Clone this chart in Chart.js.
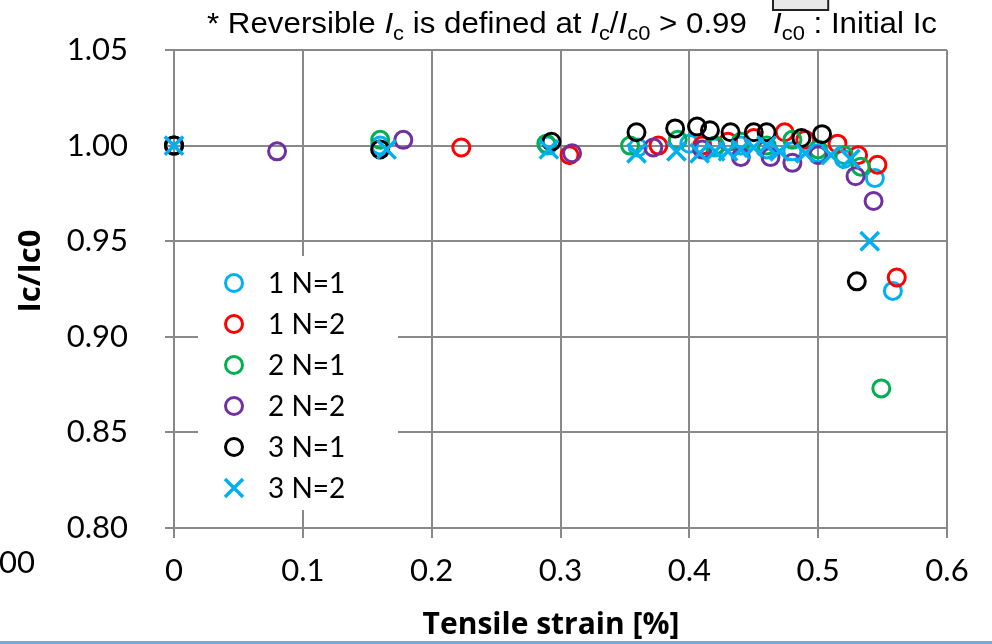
<!DOCTYPE html>
<html>
<head>
<meta charset="utf-8">
<script src="https://cdn.jsdelivr.net/npm/chart.js@4.4.0/dist/chart.umd.min.js"></script>
<style>
  html, body { margin: 0; padding: 0; background: #ffffff; }
  #wrap { width: 992px; height: 644px; position: relative; }
</style>
</head>
<body>
<div id="wrap"><canvas id="chart" width="992" height="644"></canvas></div>
<script>
// Series labels
const seriesNames = ['1 N=1', '1 N=2', '2 N=1', '2 N=2', '3 N=1', '3 N=2'];

// Tick labels
const xTickLabels = ['0', '0.1', '0.2', '0.3', '0.4', '0.5', '0.6'];
const yTickLabels = ['0.80', '0.85', '0.90', '0.95', '1.00', '1.05'];

// 1 N=1
const s1n1Strain = [0, 0.160, 0.290, 0.360, 0.400, 0.420, 0.440, 0.460, 0.480, 0.500, 0.520, 0.544, 0.558];
const s1n1Ratio  = [1.000, 1.000, 1.000, 0.999, 1.001, 0.999, 1.000, 0.998, 0.997, 0.996, 0.993, 0.983, 0.924];
// 1 N=2
const s1n2Strain = [0, 0.223, 0.307, 0.376, 0.410, 0.430, 0.450, 0.474, 0.490, 0.515, 0.531, 0.546, 0.561];
const s1n2Ratio  = [1.000, 0.999, 0.995, 1.000, 1.000, 1.002, 1.004, 1.007, 1.003, 1.001, 0.995, 0.990, 0.931];
// 2 N=1
const s2n1Strain = [0, 0.160, 0.289, 0.354, 0.391, 0.420, 0.440, 0.460, 0.480, 0.500, 0.520, 0.533, 0.549];
const s2n1Ratio  = [1.000, 1.003, 1.001, 1.000, 1.003, 1.000, 1.002, 1.000, 1.003, 0.998, 0.995, 0.989, 0.873];
// 2 N=2
const s2n2Strain = [0, 0.080, 0.178, 0.309, 0.372, 0.410, 0.440, 0.463, 0.480, 0.500, 0.529, 0.543];
const s2n2Ratio  = [1.000, 0.997, 1.003, 0.996, 0.999, 0.998, 0.994, 0.994, 0.991, 0.995, 0.984, 0.971];
// 3 N=1
const s3n1Strain = [0, 0.160, 0.293, 0.359, 0.389, 0.406, 0.416, 0.432, 0.450, 0.460, 0.487, 0.503, 0.530];
const s3n1Ratio  = [1.000, 0.998, 1.002, 1.007, 1.009, 1.010, 1.008, 1.007, 1.007, 1.007, 1.004, 1.006, 0.929];
// 3 N=2
const s3n2Strain = [0, 0.165, 0.291, 0.359, 0.390, 0.408, 0.420, 0.430, 0.440, 0.450, 0.460, 0.470, 0.490, 0.510, 0.525, 0.540];
const s3n2Ratio  = [1.000, 0.998, 0.998, 0.996, 0.997, 0.996, 0.997, 0.997, 0.998, 0.999, 1.000, 0.997, 0.996, 0.995, 0.993, 0.950];

const GRID = '#898989';
const TICK_FONT = 'Lato';
const TITLE_FONT = '"Open Sans"';

function toPoints(xs, ys) {
  return xs.map(function(x, i) { return { x: x, y: ys[i] }; });
}

const seriesStyle = [
  { color: '#00B0F0', style: 'circle' },
  { color: '#FF0000', style: 'circle' },
  { color: '#00B050', style: 'circle' },
  { color: '#7030A0', style: 'circle' },
  { color: '#000000', style: 'circle' },
  { color: '#00B0F0', style: 'crossRot' }
];
const seriesData = [
  toPoints(s1n1Strain, s1n1Ratio),
  toPoints(s1n2Strain, s1n2Ratio),
  toPoints(s2n1Strain, s2n1Ratio),
  toPoints(s2n2Strain, s2n2Ratio),
  toPoints(s3n1Strain, s3n1Ratio),
  toPoints(s3n2Strain, s3n2Ratio)
];

const datasets = seriesNames.map(function(name, i) {
  const st = seriesStyle[i];
  return {
    label: name,
    data: seriesData[i],
    pointStyle: st.style,
    pointRadius: st.style === 'crossRot' ? 13 : 8.5,
    pointBorderWidth: st.style === 'crossRot' ? 3.5 : 3,
    borderColor: st.color,
    backgroundColor: 'rgba(0,0,0,0)',
    showLine: false,
    clip: false,
    order: seriesNames.length - i
  };
});

// Note line, axis titles, legend box and other bits around the plot.
const decorPlugin = {
  id: 'decor',
  afterDraw: function(chart) {
    const ctx = chart.ctx;
    ctx.save();

    // note line, stretched to the width it has in the original
    const big = 30, small = 21;
    const reg = big + 'px "Liberation Sans"';
    const ita = 'italic ' + big + 'px "Liberation Sans"';
    const sub = small + 'px "Liberation Sans"';
    const parts = [
      { t: '* Reversible ', f: reg },
      { t: 'I', f: ita },
      { t: 'c', f: sub, sub: true },
      { t: ' is defined at ', f: reg },
      { t: 'I', f: ita },
      { t: 'c', f: sub, sub: true },
      { t: '/', f: reg },
      { t: 'I', f: ita },
      { t: 'c0', f: sub, sub: true },
      { t: ' > 0.99   ', f: reg },
      { t: 'I', f: ita, mark: true },
      { t: 'c0', f: sub, sub: true },
      { t: ' :', f: reg, markEnd: true },
      { t: ' Initial Ic', f: reg }
    ];
    let total = 0;
    parts.forEach(function(p) { ctx.font = p.f; p.w = ctx.measureText(p.t).width; total += p.w; });
    const sx = 730 / total;
    const base = 33;
    let x = 207;
    let boxL = 0, boxR = 0;
    ctx.fillStyle = '#000';
    ctx.textAlign = 'left';
    ctx.textBaseline = 'alphabetic';
    parts.forEach(function(p) {
      ctx.font = p.f;
      ctx.save();
      ctx.translate(x, p.sub ? base + 7 : base);
      ctx.scale(sx, 1);
      ctx.fillText(p.t, 0, 0);
      ctx.restore();
      if (p.mark) { boxL = x; }
      x += p.w * sx;
      if (p.markEnd) { boxR = x + 6; }
    });

    // partial box at the top edge
    ctx.fillStyle = '#e8e8e8';
    ctx.fillRect(boxL, -4, boxR - boxL, 14);
    ctx.strokeStyle = '#222';
    ctx.lineWidth = 2;
    ctx.strokeRect(boxL, -4, boxR - boxL, 14);

    // axis titles
    ctx.fillStyle = '#000';
    ctx.font = 'bold 30px ' + TITLE_FONT;
    ctx.textAlign = 'center';
    ctx.textBaseline = 'middle';
    ctx.fillText('Tensile strain [%]', 551, 625);
    ctx.save();
    ctx.translate(31, 271);
    ctx.rotate(-Math.PI / 2);
    ctx.font = 'bold 31px ' + TITLE_FONT;
    ctx.fillText('Ic/Ic0', 0, 0);
    ctx.restore();

    // cut-off label from the neighbouring chart
    ctx.font = '31px ' + TICK_FONT;
    ctx.textAlign = 'right';
    ctx.textBaseline = 'middle';
    ctx.fillText('00', 35, 563);

    // legend
    ctx.fillStyle = '#ffffff';
    ctx.fillRect(198, 256, 200, 254);
    chart.data.datasets.forEach(function(ds, i) {
      const cy = 283 + i * 41;
      const cx = 234;
      ctx.strokeStyle = ds.borderColor;
      ctx.lineWidth = ds.pointBorderWidth;
      ctx.beginPath();
      if (ds.pointStyle === 'crossRot') {
        const r = 9;
        ctx.moveTo(cx - r, cy - r);
        ctx.lineTo(cx + r, cy + r);
        ctx.moveTo(cx + r, cy - r);
        ctx.lineTo(cx - r, cy + r);
      } else {
        ctx.arc(cx, cy, 8.5, 0, Math.PI * 2);
      }
      ctx.stroke();
      ctx.fillStyle = '#000';
      ctx.font = '28px ' + TICK_FONT;
      ctx.textAlign = 'left';
      ctx.textBaseline = 'middle';
      ctx.fillText(ds.label, 268, cy + 1);
    });

    // bottom blue rule
    ctx.fillStyle = '#7fa6d6';
    ctx.fillRect(0, 641, 992, 3);

    ctx.restore();
  }
};

new Chart(document.getElementById('chart'), {
  type: 'scatter',
  data: { datasets: datasets },
  plugins: [decorPlugin],
  options: {
    responsive: false,
    animation: false,
    layout: { padding: { top: 50, right: 45, left: 0, bottom: 0 } },
    plugins: {
      legend: { display: false },
      tooltip: { enabled: false }
    },
    scales: {
      x: {
        type: 'linear',
        min: 0,
        max: 0.6,
        afterFit: function(scale) { scale.height = 116; },
        ticks: {
          stepSize: 0.1,
          color: '#000',
          padding: 14,
          maxRotation: 0,
          font: { family: TICK_FONT, size: 31 },
          callback: function(value, index) { return xTickLabels[index]; }
        },
        grid: { color: GRID, lineWidth: 2, tickLength: 10 },
        border: { color: GRID, width: 2 }
      },
      y: {
        type: 'linear',
        min: 0.8,
        max: 1.05,
        afterFit: function(scale) {
          scale.width = 174;
          scale.paddingTop = 20;
          scale.paddingBottom = 20;
        },
        ticks: {
          stepSize: 0.05,
          color: '#000',
          padding: 37,
          font: { family: TICK_FONT, size: 31 },
          callback: function(value, index) { return yTickLabels[index]; }
        },
        grid: { color: GRID, lineWidth: 2, tickLength: 9 },
        border: { color: GRID, width: 2 }
      }
    }
  }
});
</script>
</body>
</html>
